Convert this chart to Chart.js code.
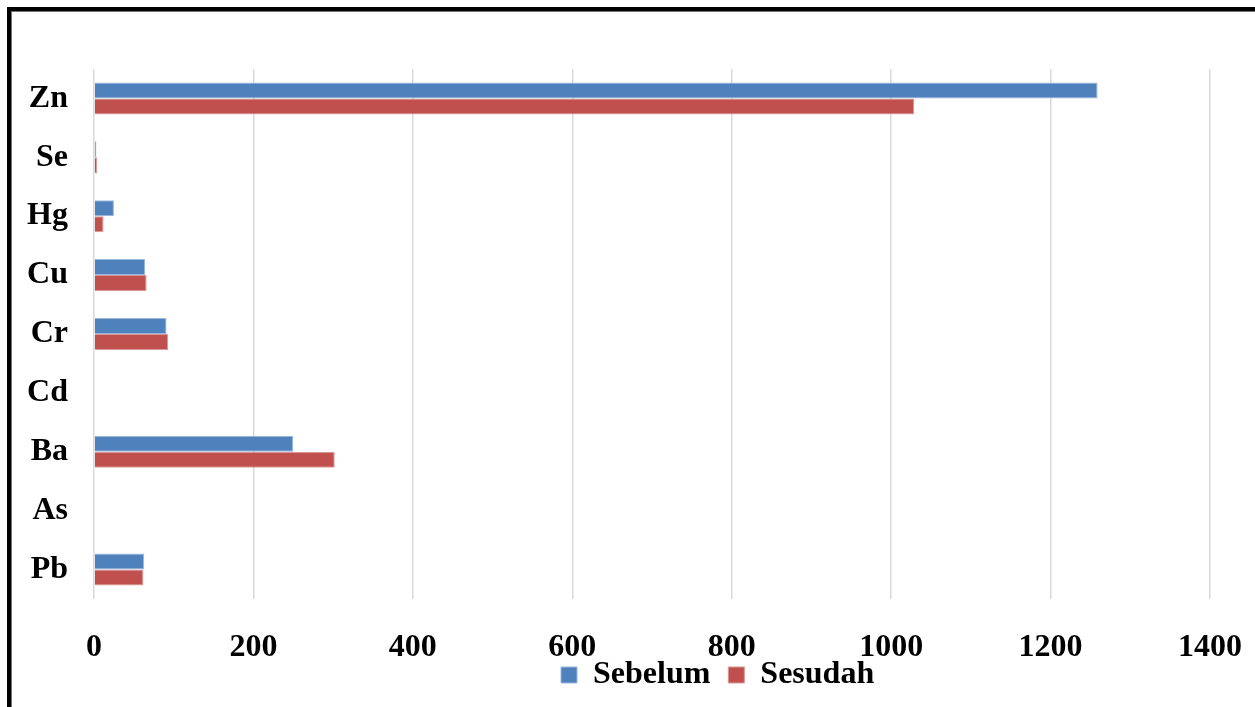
<!DOCTYPE html>
<html>
<head>
<meta charset="utf-8">
<script src="https://cdn.jsdelivr.net/npm/chart.js@4/dist/chart.umd.min.js"></script>
<style>
  html, body { margin: 0; padding: 0; background: #fff; }
  #wrap { position: relative; width: 1255px; height: 707px; overflow: hidden; }
  #frame { position: absolute; left: 7px; top: 7px; width: 1300px; height: 760px;
           border-left: 4px solid #000; border-top: 4px solid #000;
           box-shadow: inset 1px 1px 0 #777; pointer-events: none; }
  canvas { position: absolute; left: 0; top: 0; }
</style>
</head>
<body>
<div id="wrap">
  <canvas id="c" width="1255" height="707"></canvas>
  <div id="frame"></div>
</div>
<script>
const categories = ['Zn', 'Se', 'Hg', 'Cu', 'Cr', 'Cd', 'Ba', 'As', 'Pb'];
const sebelum = [1259, 3, 25, 64, 91, 0, 250, 0, 63];
const sesudah = [1029, 4, 12, 66, 93, 0, 302, 0, 62];
const xTicks = [0, 200, 400, 600, 800, 1000, 1200, 1400];

const FONT = "'Liberation Serif', 'Times New Roman', serif";

const legendShift = {
  id: 'legendShift',
  afterUpdate(chart) {
    const lg = chart.legend;
    if (!lg || !lg.legendHitBoxes || !lg.legendHitBoxes.length) return;
    const hb = lg.legendHitBoxes[0];
    const pad = hb.top - lg.top;
    const dx = 561 - hb.left;
    const dy = 675 - (hb.top + hb.height / 2);
    lg.left += dx; lg.right += dx;
    lg.top += dy;
    lg.bottom = lg.top + pad + hb.height + 20;
    lg.height = lg.bottom - lg.top;
  }
};

new Chart(document.getElementById('c'), {
  type: 'bar',
  data: {
    labels: categories,
    datasets: [
      { label: 'Sebelum', data: sebelum, backgroundColor: '#4f81bd',
        borderColor: '#9ab7dd', borderWidth: 1 },
      { label: 'Sesudah', data: sesudah, backgroundColor: '#c0504d',
        borderColor: '#dc9896', borderWidth: 1 }
    ]
  },
  options: {
    indexAxis: 'y',
    responsive: false,
    animation: false,
    devicePixelRatio: 1,
    datasets: { bar: { categoryPercentage: 0.545, barPercentage: 1.0 } },
    layout: { padding: { top: 69, right: 45, left: 0, bottom: 0 } },
    scales: {
      x: {
        min: 0, max: 1400,
        afterBuildTicks(scale) { scale.ticks = xTicks.map(v => ({ value: v })); },
        afterFit(scale) {
          const lh = scale.chart.legend ? scale.chart.legend.height : 0;
          scale.height = 707 - 599 - lh;
          scale.paddingRight = 0;
          scale.paddingLeft = 0;
        },
        grid: { color: '#d9d9d9', lineWidth: 1.5, drawTicks: false },
        border: { display: false },
        ticks: { color: '#000', padding: 30, callback: (v) => String(v),
                 font: { family: FONT, size: 32, weight: 'bold' } }
      },
      y: {
        afterFit(scale) { scale.width = 94; },
        grid: { display: false, drawTicks: false },
        border: { display: false },
        ticks: { color: '#000', padding: 26, font: { family: FONT, size: 32, weight: 'bold' } }
      }
    },
    plugins: {
      tooltip: { enabled: false },
      legend: {
        position: 'bottom',
        maxHeight: 1,
        labels: { color: '#000', boxWidth: 16, boxHeight: 16, padding: 18,
                  font: { family: FONT, size: 32, weight: 'bold' } }
      }
    }
  },
  plugins: [legendShift]
});
</script>
</body>
</html>
